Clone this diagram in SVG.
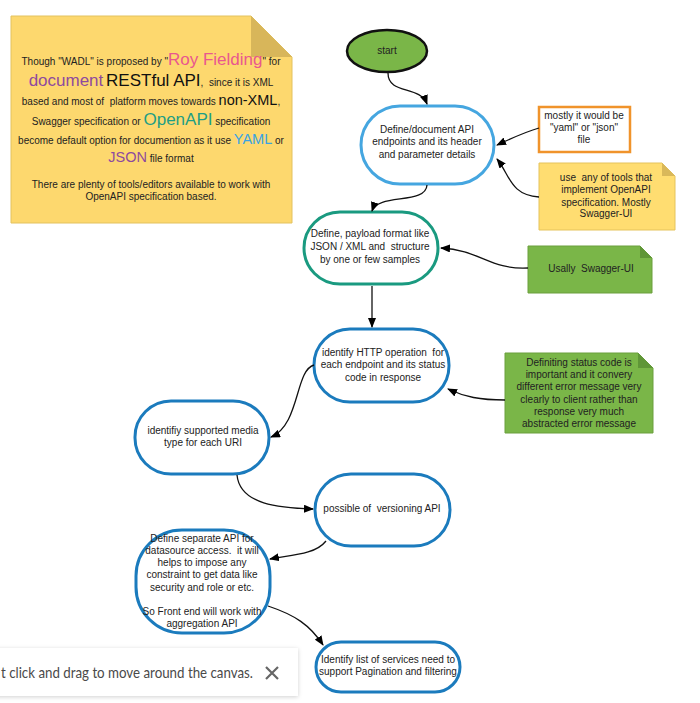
<svg xmlns="http://www.w3.org/2000/svg" width="700" height="703" viewBox="0 0 700 703" xml:space="preserve">
<defs>
<marker id="arr" markerWidth="10" markerHeight="8" refX="9" refY="4" orient="auto" markerUnits="userSpaceOnUse">
<path d="M0,0 L10,4 L0,8 Z" fill="#000"/>
</marker>
<filter id="sh" x="-10%" y="-30%" width="120%" height="160%">
<feDropShadow dx="0" dy="1" stdDeviation="2" flood-color="#000" flood-opacity="0.18"/>
</filter>
</defs>
<style>
text{font-family:"Liberation Sans",Arial,sans-serif;fill:#222;white-space:pre;}
.t{font-size:10px;text-anchor:middle;}
.n{font-size:10px;}
.node{fill:#fff;stroke-width:3;}
.blue{stroke:#1b7bbd;}
.conn path{fill:none;stroke:#111;stroke-width:1.3;marker-end:url(#arr);}
.gnote{fill:#7ab648;stroke:#6a9f3c;stroke-width:1;}
.gfold{fill:#5f9637;}
.ynote{fill:#ffdd71;stroke:#e5c35c;stroke-width:1;}
.yfold{fill:#d9b85a;}
</style>
<rect width="700" height="703" fill="#fff"/>
<g id="note-wadl">
<path d="M11,16 H251 L292,57 V223 H11 Z" fill="#fdd86e" stroke="#e3c25e" stroke-width="1"/>
<path d="M251,16 L292,57 H251 Z" fill="#d8b65a"/>
<text x="151" y="65" text-anchor="middle" class="n">Though "WADL" is proposed by "<tspan font-size="17" style="fill:#e9578e">Roy Fielding</tspan>" for</text>
<text x="151" y="86" text-anchor="middle" class="n"><tspan font-size="17" style="fill:#8e4a9e">document</tspan> <tspan font-size="17" style="fill:#111">RESTful API</tspan>,  since it is XML</text>
<text x="151" y="105" text-anchor="middle" class="n">based and most of  platform moves towards <tspan font-size="14.5" style="fill:#111">non-XML</tspan>,</text>
<text x="151" y="125" text-anchor="middle" class="n">Swagger specification or <tspan font-size="17" style="fill:#1e9e84">OpenAPI</tspan> specification</text>
<text x="151" y="144" text-anchor="middle" class="n">become default option for documention as it use <tspan font-size="14.5" style="fill:#3aa3e3">YAML</tspan> or</text>
<text x="151" y="162" text-anchor="middle" class="n"><tspan font-size="14.5" style="fill:#8e4a9e">JSON</tspan> file format</text>
<text x="151" y="188" text-anchor="middle" class="n">There are plenty of tools/editors available to work with</text>
<text x="151" y="200" text-anchor="middle" class="n">OpenAPI specification based.</text>
</g>
<g id="start">
<ellipse cx="387" cy="51" rx="40" ry="21" fill="#7ab648" stroke="#111" stroke-width="2.5"/>
<text x="387" y="54" class="t">start</text>
</g>
<g id="node-define-endpoints">
<rect x="361" y="106" width="133" height="78" rx="39" class="node" stroke="#45a6e0"/>
<text x="427" y="133" class="t">Define/document API</text>
<text x="427" y="145" class="t">endpoints and its header</text>
<text x="427" y="158" class="t">and parameter details</text>
</g>
<g id="note-yaml-json">
<rect x="539" y="107" width="91" height="45" fill="#fff" stroke="#f0932b" stroke-width="2.5"/>
<text x="584" y="118.5" class="t">mostly it would be</text>
<text x="584" y="131" class="t">"yaml" or "json"</text>
<text x="584" y="143" class="t">file</text>
</g>
<g id="note-tools">
<path d="M539,163 H662 L675,176 V230 H539 Z" class="ynote"/>
<path d="M662,163 L675,176 H662 Z" class="yfold"/>
<text x="606" y="180.5" class="t">use  any of tools that</text>
<text x="606" y="193" class="t">implement OpenAPI</text>
<text x="606" y="205.5" class="t">specification. Mostly</text>
<text x="606" y="217" class="t">Swagger-UI</text>
</g>
<g id="node-payload">
<rect x="304" y="212" width="134" height="72" rx="36" class="node" stroke="#1a9a80"/>
<text x="370" y="236.5" class="t">Define, payload format like</text>
<text x="370" y="250" class="t">JSON / XML and  structure</text>
<text x="370" y="262.5" class="t">by one or few samples</text>
</g>
<g id="note-swagger-ui">
<path d="M528,246 H640 L652,258 V293 H528 Z" class="gnote"/>
<path d="M640,246 L652,258 H640 Z" class="gfold"/>
<text x="591" y="272" class="t">Usally  Swagger-UI</text>
</g>
<g id="node-http-operation">
<rect x="314" y="329" width="135" height="73" rx="36" class="node blue"/>
<text x="383" y="355.5" class="t">identify HTTP operation  for</text>
<text x="383" y="367.5" class="t">each endpoint and its status</text>
<text x="383" y="380.5" class="t">code in response</text>
</g>
<g id="note-status-code">
<path d="M505,353 H638 L653,368 V433 H505 Z" class="gnote"/>
<path d="M638,353 L653,368 H638 Z" class="gfold"/>
<text x="579" y="365.5" class="t">Definiting status code is</text>
<text x="579" y="377.5" class="t">important and it convery</text>
<text x="579" y="389.5" class="t">different error message very</text>
<text x="579" y="402.5" class="t">clearly to client rather than</text>
<text x="579" y="414.5" class="t">response very much</text>
<text x="579" y="426.5" class="t">abstracted error message</text>
</g>
<g id="node-media-type">
<rect x="135" y="401" width="134" height="73" rx="36" class="node blue"/>
<text x="203" y="433.5" class="t">identifiy supported media</text>
<text x="203" y="445.5" class="t">type for each URI</text>
</g>
<g id="node-versioning">
<rect x="315" y="474" width="135" height="72" rx="36" class="node blue"/>
<text x="382" y="511.5" class="t">possible of  versioning API</text>
</g>
<g id="node-separate-api">
<rect x="136" y="530" width="134" height="103" rx="46" class="node blue"/>
<text x="202" y="541.5" class="t">Define separate API for</text>
<text x="202" y="553.5" class="t">datasource access.  it will</text>
<text x="202" y="565.5" class="t">helps to impose any</text>
<text x="202" y="577.5" class="t">constraint to get data like</text>
<text x="202" y="590.5" class="t">security and role or etc.</text>
<text x="202" y="614.5" class="t">So Front end will work with</text>
<text x="202" y="626.5" class="t">aggregation API</text>
</g>
<g id="node-pagination">
<rect x="316" y="642" width="144" height="50" rx="25" class="node blue"/>
<text x="388" y="662.5" class="t">Identify list of services need to</text>
<text x="388" y="674.5" class="t">support Pagination and filtering</text>
</g>
<g id="connectors" class="conn">
<path d="M388,73 C388,95 420,85 427,104"/>
<path d="M427,185 C426,205 378,193 372,211"/>
<path d="M539,128 C525,132 512,138 497,145"/>
<path d="M539,197 C510,195 510,175 497,159"/>
<path d="M528,268 C490,270 480,250 441,248"/>
<path d="M372,286 V327"/>
<path d="M314,365 C295,370 300,425 271,437"/>
<path d="M505,400 C480,400 465,397 448,389"/>
<path d="M237,475 C240,505 280,508 313,509"/>
<path d="M326,541 C315,555 290,555 270,559"/>
<path d="M268,606 C295,615 310,625 323,645"/>
</g>
<g id="toast">
<rect x="-6" y="648" width="304" height="48" fill="#fff" filter="url(#sh)"/>
<text x="1" y="678" textLength="252" lengthAdjust="spacingAndGlyphs" style="font-family:Lato,'Open Sans',sans-serif;font-size:15px;fill:#4a4a4a">t click and drag to move around the canvas.</text>
<path d="M266,667 L278,679 M278,667 L266,679" stroke="#666" stroke-width="2.2"/>
</g>
</svg>
